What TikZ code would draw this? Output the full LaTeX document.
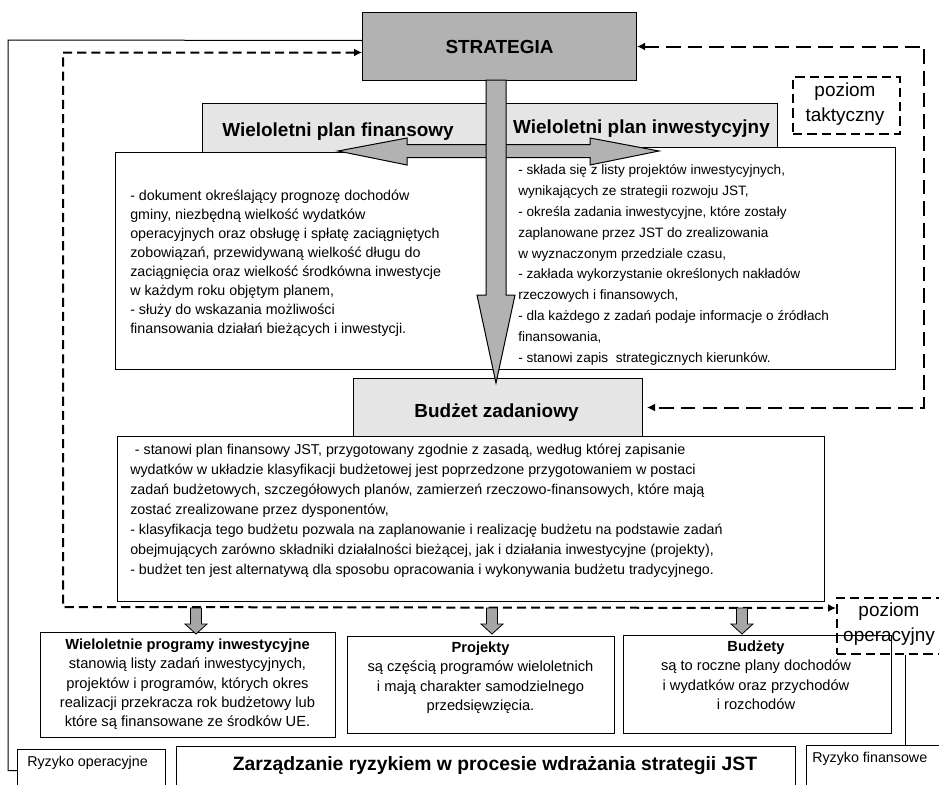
\documentclass[tikz,border=0pt]{standalone}
\usepackage{fontspec}
\setmainfont{Liberation Sans}
\usetikzlibrary{arrows.meta}

% fixed-height rule so that the top of a text block sits a known distance above its first baseline
\newcommand\lnTop{\rule{0pt}{10pt}}

\begin{document}
\begin{tikzpicture}[x=0.75pt,y=-0.75pt,
  box/.style={draw=black, line width=0.75pt, fill=white, inner sep=0pt, anchor=north west},
  hdrbox/.style={box, fill=black!10},
  lvlbox/.style={draw=black, line width=1.5pt, dash pattern=on 7pt off 3.8pt, inner sep=0pt, anchor=north west},
  thin/.style={draw=black, line width=0.75pt},
  feedback/.style={draw=black, line width=1.5pt, {Latex[length=6pt,width=6pt]}-{Latex[length=6pt,width=6pt]}},
  shortdash/.style={dash pattern=on 6.8pt off 3.8pt},
  longdash/.style={dash pattern=on 11pt off 5.3pt},
  blockarrow/.style={draw=black, line width=0.75pt, fill=black!30, line join=miter},
  minorarrow/.style={draw=black, line width=0.6pt, fill=black!35, line join=miter},
  headfont/.style={inner sep=0pt, font=\fontsize{14.2}{16}\selectfont\bfseries},
  bodytext/.style={inner sep=0pt, anchor=north west, align=left},
  celltext/.style={inner sep=0pt, anchor=north, align=center, font=\fontsize{11}{14.6}\selectfont},
  lvltext/.style={inner sep=0pt, align=center, font=\fontsize{14.2}{18.75}\selectfont},
  risktext/.style={inner sep=0pt, anchor=base west, font=\fontsize{10.7}{12}\selectfont},
  dropdown/.pic={\path[minorarrow] (-5.5,0) -- (5.5,0) -- (5.5,16) -- (11,16) -- (0,26) -- (-11,16) -- (-5.5,16) -- cycle;}
]
\useasboundingbox (0,0) rectangle (939,785);
\clip (0,0) rectangle (939,785);

% ---------- boxes ----------
\node[box, fill=black!30, minimum width=205.5pt, minimum height=51pt] (strat) at (362,12) {};

\node[hdrbox, minimum width=216pt, minimum height=36.75pt] (hdrL) at (202,103) {};
\node[hdrbox, minimum width=204pt, minimum height=33pt] (hdrR) at (505,103) {};
\node[box, minimum width=288.75pt, minimum height=162.75pt] (boxL) at (115,152) {};
\node[box, minimum width=300pt, minimum height=166.5pt] (boxR) at (495,147) {};

\node[hdrbox, minimum width=216.75pt, minimum height=43.5pt] (hdrB) at (353,378) {};
\node[box, minimum width=530.25pt, minimum height=123.75pt] (boxB) at (117,436) {};

\node[box, minimum width=221.25pt, minimum height=78.75pt] (prog) at (40,632) {};
\node[box, minimum width=200.25pt, minimum height=72.75pt] (proj) at (347,636) {};
\node[box, minimum width=201pt, minimum height=73.5pt] (budz) at (623,635) {};

\node[box, minimum width=111pt, minimum height=45pt] (ryzOp) at (17,749) {};
\node[box, minimum width=464.25pt, minimum height=45pt] (zarz) at (176,746) {};
\node[box, minimum width=112.5pt, minimum height=45pt] (ryzFin) at (806,745) {};

\node[lvlbox, minimum width=80.25pt, minimum height=42.75pt] (takt) at (792,76) {};
\node[lvlbox, minimum width=90pt, minimum height=42pt] (oper) at (836,597) {};

% ---------- thin links to the risk boxes ----------
\coordinate (riskL) at (8,40);
\draw[thin] ([yshift=4.5pt]strat.west) -- (riskL) |- ([yshift=6.75pt]ryzOp.west);
\coordinate (finTap) at (905,0);
\draw[thin] (oper.south -| finTap) -- (ryzFin.north -| finTap);

% ---------- dashed feedback loops ----------
\coordinate (loopL) at (63,607);
\draw[feedback, shortdash] ([yshift=-4.5pt]strat.west) -| (loopL) -- ([yshift=13.5pt]oper.west);
\coordinate (loopR) at (924,0);
\draw[feedback, longdash] (strat.east) -| (loopR |- hdrB.east) -- ([xshift=3pt]hdrB.east);

% ---------- block arrows ----------
\path[blockarrow] (338,151) -- (407,138) -- (407,144.5) -- (590,144.5) -- (590,138) -- (659,151)
  -- (590,165) -- (590,157.5) -- (407,157.5) -- (407,165) -- cycle;
\path[blockarrow] (486,80) -- (506,80) -- (506,295) -- (515,295) -- (496,383) -- (477,295) -- (486,295) -- cycle;

\pic at (196,608) {dropdown};
\pic at (492,608) {dropdown};
\pic at (742,608) {dropdown};

% ---------- texts ----------
\node[headfont] (stratT) at (strat.center) {STRATEGIA};
\node[headfont] (hdrLT) at (338,131.5) {Wieloletni plan finansowy};
\node[headfont] (hdrRT) at (641.5,128.5) {Wieloletni plan inwestycyjny};
\node[headfont] (hdrBT) at (496.5,413) {Budżet zadaniowy};

\node[bodytext, font=\fontsize{10.7}{14.2}\selectfont] (boxLT) at (130,187) {\lnTop- dokument określający prognozę dochodów\\
gminy, niezbędną wielkość wydatków\\
operacyjnych oraz obsługę i spłatę zaciągniętych\\
zobowiązań, przewidywaną wielkość długu do\\
zaciągnięcia oraz wielkość środkówna inwestycje\\
w każdym roku objętym planem,\\
- służy do wskazania możliwości\\
finansowania działań bieżących i inwestycji.};

\node[bodytext, font=\fontsize{10.2}{15.6}\selectfont] (boxRT) at (518,161.2) {\lnTop- składa się z listy projektów inwestycyjnych,\\
wynikających ze strategii rozwoju JST,\\
- określa zadania inwestycyjne, które zostały\\
zaplanowane przez JST do zrealizowania\\
w wyznaczonym przedziale czasu,\\
- zakłada wykorzystanie określonych nakładów\\
rzeczowych i finansowych,\\
- dla każdego z zadań podaje informacje o źródłach\\
finansowania,\\
- stanowi zapis~ strategicznych kierunków.};

\node[bodytext, font=\fontsize{10.7}{15}\selectfont] (boxBT) at (130,440.5) {\lnTop\hspace{3.5pt}- stanowi plan finansowy JST, przygotowany zgodnie z zasadą, według której zapisanie\\
wydatków w układzie klasyfikacji budżetowej jest poprzedzone przygotowaniem w postaci\\
zadań budżetowych, szczegółowych planów, zamierzeń rzeczowo-finansowych, które mają\\
zostać zrealizowane przez dysponentów,\\
- klasyfikacja tego budżetu pozwala na zaplanowanie i realizację budżetu na podstawie zadań\\
obejmujących zarówno składniki działalności bieżącej, jak i działania inwestycyjne (projekty),\\
- budżet ten jest alternatywą dla sposobu opracowania i wykonywania budżetu tradycyjnego.};

\node[celltext] (progT) at (187.5,635.5) {\lnTop\textbf{Wieloletnie programy inwestycyjne}\\
stanowią listy zadań inwestycyjnych,\\
projektów i programów, których okres\\
realizacji przekracza rok budżetowy lub\\
które są finansowane ze środków UE.};
\node[celltext] (projT) at (480.5,638.5) {\lnTop\textbf{Projekty}\\
są częścią programów wieloletnich\\
i mają charakter samodzielnego\\
przedsięwzięcia.};
\node[celltext] (budzT) at (756,637.5) {\lnTop\textbf{Budżety}\\
są to roczne plany dochodów\\
i wydatków oraz przychodów\\
i rozchodów};

\node[lvltext] (taktT) at (845,104) {poziom\\taktyczny};
\node[lvltext] (operT) at (889,624) {poziom\\operacyjny};

\node[inner sep=0pt, anchor=base, font=\fontsize{14.5}{16}\selectfont\bfseries] (zarzT) at (495,770)
  {Zarządzanie ryzykiem w procesie wdrażania strategii JST};
\node[risktext] (ryzOpT) at (27,766) {Ryzyko operacyjne};
\node[risktext] (ryzFinT) at (812,762) {Ryzyko finansowe};
\end{tikzpicture}
\end{document}
